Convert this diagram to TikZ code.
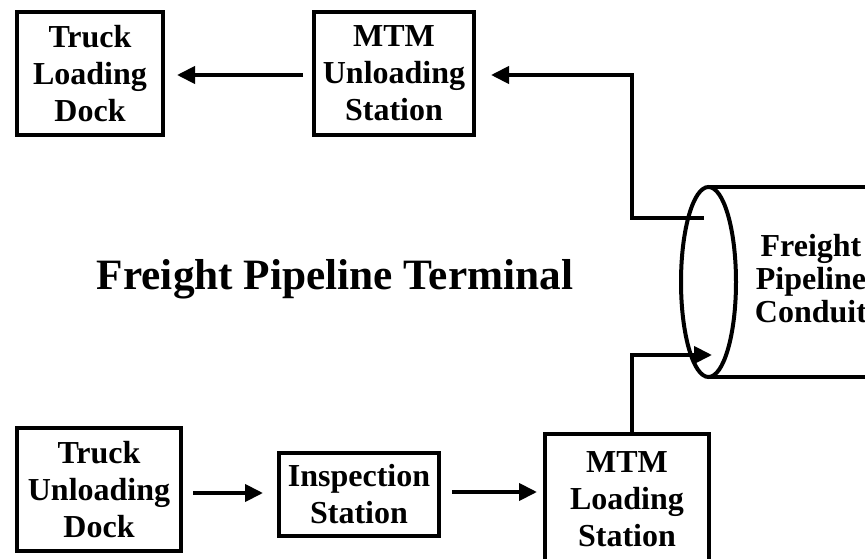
\documentclass[tikz,border=0pt]{standalone}
\usepackage{fontspec}
\setmainfont{Liberation Serif}
\usetikzlibrary{arrows.meta,shapes.geometric}
\begin{document}
\begin{tikzpicture}[x=1pt,y=-1pt,
  box/.style={draw, line width=4pt, align=center, inner sep=0pt, font=\fontsize{32}{37}\selectfont\bfseries},
  arr/.style={line width=4pt, -{Triangle[length=18pt,width=17pt]}},
  conn/.style={line width=4pt}]
\useasboundingbox (0,0) rectangle (865,559);
\clip (0,0) rectangle (865,559);
% boxes
\node[box, minimum width=146pt, minimum height=123pt] (tld) at (90,73.5) {Truck\\Loading\\Dock};
\node[box, minimum width=160pt, minimum height=123pt] (mus) at (394,73.5) {MTM\\Unloading\\Station};
\node[box, minimum width=164pt, minimum height=123pt] (tud) at (99,489.5) {Truck\\Unloading\\Dock};
\node[box, minimum width=160pt, minimum height=83pt] (ins) at (359,494.5) {Inspection\\Station};
\node[box, minimum width=164pt, minimum height=130pt] (mls) at (627,499) {MTM\\Loading\\Station};
% pipeline conduit
\node[draw, ellipse, line width=4pt, minimum width=55pt, minimum height=190pt, inner sep=0pt, outer sep=0pt] (pipe) at (708.5,282) {};
\draw[conn] (pipe.north) -- ++(170,0);
\draw[conn] (pipe.south) -- ++(170,0);
\node[align=center, font=\fontsize{32}{33}\selectfont\bfseries, inner sep=0pt] (ctext) at (811,278.5) {Freight\\Pipeline\\Conduit};
% title
\node[font=\fontsize{43.3}{50}\selectfont\bfseries, anchor=base, inner sep=0pt] (title) at (335,289) {Freight Pipeline Terminal};
% coordinates
\coordinate (r0) at (0,75);
\coordinate (r1) at (0,493);
\coordinate (r2) at (0,492);
\coordinate (pout) at (704,218);
\coordinate (bend1) at (632,218);
\coordinate (mtop) at (632,75);
\coordinate (b1) at (632,355);
\coordinate (pin) at (712,355);
% connectors
\draw[arr, shorten <=9pt, shorten >=12pt] (mus.west |- r0) -- (tld.east |- r0);
\draw[arr, shorten <=10pt, shorten >=14pt] (tud.east |- r1) -- (ins.west |- r1);
\draw[arr, shorten <=11pt, shorten >=6pt] (ins.east |- r2) -- (mls.west |- r2);
\draw[arr, shorten >=15pt] (pout) -- (bend1) -- (mtop) -- (mus.east |- mtop);
\draw[arr] (mls.north -| b1) -- (b1) -- (pin);
\end{tikzpicture}
\end{document}
